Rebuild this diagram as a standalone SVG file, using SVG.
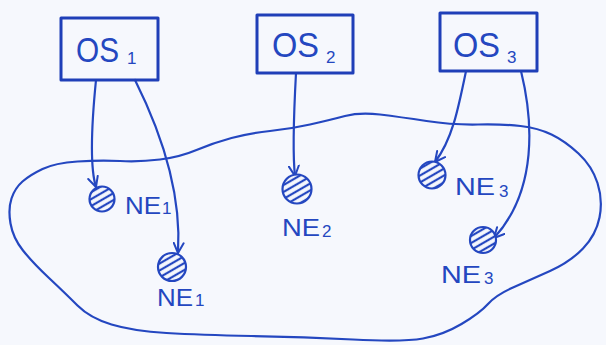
<svg xmlns="http://www.w3.org/2000/svg" width="606" height="345" viewBox="0 0 606 345">
<defs>
<style>
.ink{fill:none;stroke:#2447c0;stroke-width:2.2;stroke-linecap:round;stroke-linejoin:round}
.box{fill:none;stroke:#1f3fb8;stroke-width:3;stroke-linejoin:round}
.lbl{font-family:"Liberation Sans",Arial,sans-serif;fill:#2447c0}
.os{font-size:35px}
.ne{font-size:23px}
.sub{font-size:17px}
.ne-c{fill:url(#hatch);stroke:#2447c0;stroke-width:2.2}
</style>
<pattern id="hatch" width="6" height="6" patternUnits="userSpaceOnUse" patternTransform="rotate(-30)">
<rect width="6" height="6" fill="#f6f8fd"/>
<line x1="0" y1="2" x2="6" y2="2" stroke="#2447c0" stroke-width="2.2"/>
</pattern>
<marker id="arr" viewBox="0 0 12 12" refX="11" refY="6" markerWidth="12" markerHeight="12" markerUnits="userSpaceOnUse" orient="auto">
<path d="M1 1 L11 6 L1 11" fill="none" stroke="#2447c0" stroke-width="2" stroke-linecap="round" stroke-linejoin="round"/>
</marker>
</defs>
<rect width="606" height="345" fill="#f6f8fd"/>
<g id="cloud">
<path class="ink" d="M22.5 181.5 Q30 175 42.5 169 Q55 163 77.5 161.5 Q100 160 120 161 Q140 162 160 159.5 Q180 157 196.5 150 Q213 143 231.5 138 Q250 133 270 131 Q290 129 310 124.5 Q330 120 345 116 Q360 112 380 114.5 Q400 117 426.5 121 Q453 125 478 124.5 Q503 124 520.5 126 Q538 128 551.5 134.5 Q565 141 578.5 153.5 Q592 166 597.5 183 Q603 200 599.5 217.5 Q596 235 583 248.5 Q570 262 550 271 Q530 280 513 287.5 Q496 295 488 304 Q480 313 461.5 324 Q443 335 423 338.5 Q403 342 353 339.5 Q303 337 251.5 336 Q200 335 166.5 333 Q133 331 111.5 324.5 Q90 318 77.5 305.5 Q65 293 49 278 Q33 263 23 250.5 Q13 238 10.5 223.5 Q8 209 11.5 198.5 Q15 188 22.5 181.5 Z"/>
</g>
<g id="connectors">
<path class="ink" marker-end="url(#arr)" d="M96 80 C92 120 89 165 96 187"/>
<path class="ink" marker-end="url(#arr)" d="M135 80 C160 130 182 190 178 253"/>
<path class="ink" marker-end="url(#arr)" d="M296 73 C294 110 292 150 295 176"/>
<path class="ink" marker-end="url(#arr)" d="M466 71 C458 110 452 140 435 162"/>
<path class="ink" marker-end="url(#arr)" d="M521 71 C533 120 538 190 494 238"/>
</g>
<g id="os1">
<rect class="box" x="61" y="18" width="97" height="62"/>
<text class="lbl os" x="76" y="62" textLength="43" lengthAdjust="spacingAndGlyphs">OS</text>
<text class="lbl sub" x="127" y="64">1</text>
</g>
<g id="os2">
<rect class="box" x="257" y="15" width="96" height="58"/>
<text class="lbl os" x="272" y="57" textLength="47" lengthAdjust="spacingAndGlyphs">OS</text>
<text class="lbl sub" x="326" y="63">2</text>
</g>
<g id="os3">
<rect class="box" x="440" y="13" width="97" height="58"/>
<text class="lbl os" x="453" y="57" textLength="47" lengthAdjust="spacingAndGlyphs">OS</text>
<text class="lbl sub" x="507" y="63">3</text>
</g>
<g id="ne1a">
<circle class="ne-c" cx="102" cy="199" r="12.5"/>
<text class="lbl ne" x="125" y="214" textLength="36" lengthAdjust="spacingAndGlyphs">NE</text>
<text class="lbl sub" x="162" y="214">1</text>
</g>
<g id="ne1b">
<circle class="ne-c" cx="172" cy="267" r="14"/>
<text class="lbl ne" x="157" y="306" textLength="36" lengthAdjust="spacingAndGlyphs">NE</text>
<text class="lbl sub" x="195" y="306">1</text>
</g>
<g id="ne2">
<circle class="ne-c" cx="297" cy="189" r="14.5"/>
<text class="lbl ne" x="282" y="236" textLength="38" lengthAdjust="spacingAndGlyphs">NE</text>
<text class="lbl sub" x="322" y="237">2</text>
</g>
<g id="ne3a">
<circle class="ne-c" cx="432" cy="175" r="13.5"/>
<text class="lbl ne" x="455" y="195" textLength="40" lengthAdjust="spacingAndGlyphs">NE</text>
<text class="lbl sub" x="499" y="197">3</text>
</g>
<g id="ne3b">
<circle class="ne-c" cx="483" cy="240" r="13"/>
<text class="lbl ne" x="441" y="283" textLength="40" lengthAdjust="spacingAndGlyphs">NE</text>
<text class="lbl sub" x="484" y="284">3</text>
</g>
</svg>
